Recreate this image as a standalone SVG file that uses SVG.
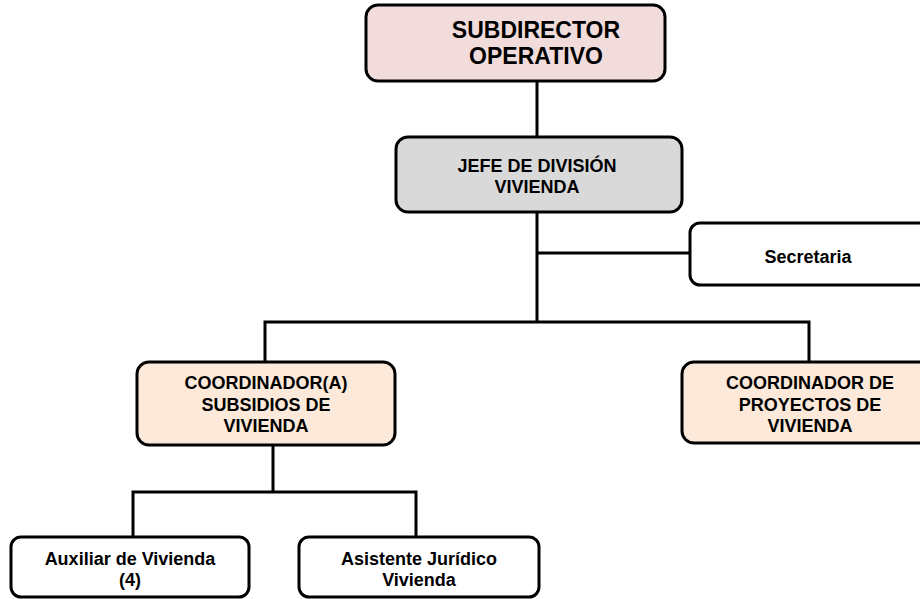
<svg xmlns="http://www.w3.org/2000/svg" width="920" height="599" viewBox="0 0 920 599">
<style>
.box{stroke:#000;stroke-width:3}
.t{font-family:"Liberation Sans",Arial,sans-serif;font-weight:bold;font-size:18px;text-anchor:middle;fill:#000}
.big{font-size:23px}
.c{fill:none;stroke:#000;stroke-width:3}
</style>
<rect width="920" height="599" fill="#fff"/>
<g id="connectors">
<path class="c" d="M537 81V137M537 212V322M537 253H690M265 362V322H809V362M273 445V492M133 537V492H416V537"/>
</g>
<g id="subdirector">
<rect class="box" x="366" y="5" width="299" height="76" rx="12" fill="#f2dcdb"/>
<text class="t big" x="536" y="38">SUBDIRECTOR</text>
<text class="t big" x="536" y="64">OPERATIVO</text>
</g>
<g id="jefe">
<rect class="box" x="396" y="137" width="286" height="75" rx="12" fill="#d9d9d9"/>
<text class="t" x="537" y="172">JEFE DE DIVISIÓN</text>
<text class="t" x="537" y="193">VIVIENDA</text>
</g>
<g id="secretaria">
<rect class="box" x="690" y="223" width="240" height="62" rx="10" fill="#fff"/>
<text class="t" x="808" y="263">Secretaria</text>
</g>
<g id="coord-subsidios">
<rect class="box" x="137" y="362" width="258" height="83" rx="12" fill="#fde9d9"/>
<text class="t" x="266" y="389">COORDINADOR(A)</text>
<text class="t" x="266" y="411">SUBSIDIOS DE</text>
<text class="t" x="266" y="432">VIVIENDA</text>
</g>
<g id="coord-proyectos">
<rect class="box" x="682" y="362" width="250" height="81" rx="12" fill="#fde9d9"/>
<text class="t" x="810" y="389">COORDINADOR DE</text>
<text class="t" x="810" y="411">PROYECTOS DE</text>
<text class="t" x="810" y="432">VIVIENDA</text>
</g>
<g id="auxiliar">
<rect class="box" x="11" y="537" width="238" height="60" rx="10" fill="#fff"/>
<text class="t" x="130" y="565">Auxiliar de Vivienda</text>
<text class="t" x="130" y="586">(4)</text>
</g>
<g id="asistente">
<rect class="box" x="299" y="537" width="240" height="60" rx="10" fill="#fff"/>
<text class="t" x="419" y="565">Asistente Jurídico</text>
<text class="t" x="419" y="586">Vivienda</text>
</g>
</svg>
